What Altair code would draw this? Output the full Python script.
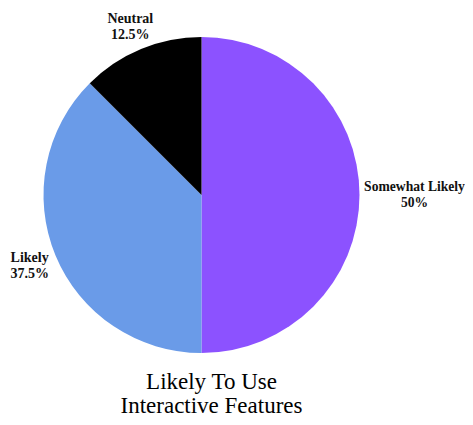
import altair as alt
import pandas as pd

categories = ["Somewhat Likely", "Likely", "Neutral"]
values = [50, 37.5, 12.5]
pct_labels = ["50%", "37.5%", "12.5%"]
colors = ["#8C52FF", "#6A9BE8", "#000000"]
title_lines = ["Likely To Use", "Interactive Features"]

df = pd.DataFrame({
    "category": categories,
    "value": values,
    "pct": pct_labels,
    "idx": list(range(len(categories))),
})

CX, CY, R = 193.5, 187, 158
FONT = "Liberation Serif"

pie = alt.Chart(df).mark_arc(stroke=None).encode(
    theta=alt.Theta("value:Q", stack=True),
    order=alt.Order("idx:Q"),
    color=alt.Color("category:N", scale=alt.Scale(domain=categories, range=colors), legend=None),
    x=alt.value(CX), y=alt.value(CY), radius=alt.value(R),
)

lab = alt.Chart(df).transform_window(
    cum="sum(value)", sort=[alt.SortField("idx")]
).transform_calculate(
    mid="datum.cum - datum.value / 2",
    lbl="[datum.category, datum.pct]",
)

def label_layer(cats, rad, size, dy):
    return lab.transform_filter(
        alt.FieldOneOfPredicate(field="category", oneOf=cats)
    ).mark_text(
        font=FONT, fontSize=size, fontWeight="bold", lineHeight=16,
        align="center", baseline="middle", color="#111111", dy=dy,
    ).encode(
        theta=alt.Theta("mid:Q"),
        text=alt.Text("lbl:N"),
        x=alt.value(CX), y=alt.value(CY), radius=alt.value(rad),
    )

labels_right = label_layer(["Somewhat Likely"], 213, 13.6, -8)
labels_likely = label_layer(["Likely"], 186, 14, -8)
labels_neutral = label_layer(["Neutral"], 186, 14, -4)

title = alt.Chart(alt.Data(values=[{}])).mark_text(
    text=title_lines, font=FONT, fontSize=23, lineHeight=24,
    align="center", baseline="alphabetic", color="#000000",
).encode(x=alt.value(203.5), y=alt.value(381))

chart = alt.layer(pie, labels_right, labels_likely, labels_neutral, title).properties(
    width=457, height=409, padding=0,
    autosize=alt.AutoSizeParams(type="none"),
).configure_view(stroke=None)

chart.save("out.html", embed_options={"renderer": "svg", "actions": False})
